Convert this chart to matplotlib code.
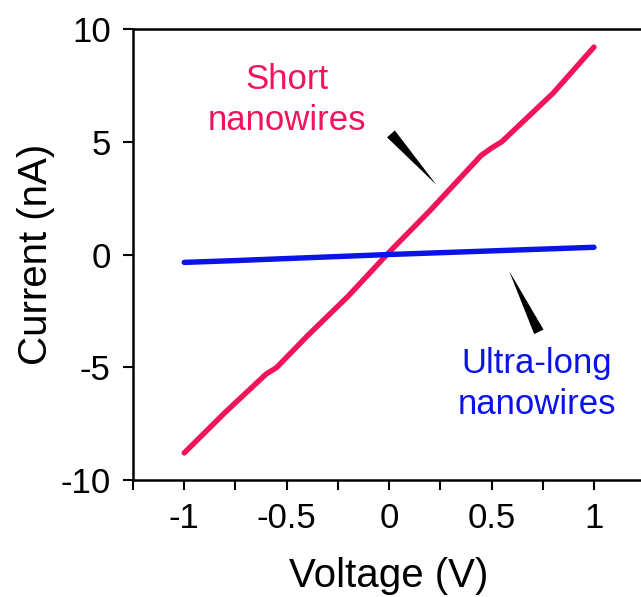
import numpy as np
import matplotlib
matplotlib.use('Agg')
import matplotlib.pyplot as plt

plt.rcParams['font.family'] = ['Liberation Sans', 'DejaVu Sans']

# I-V sweep of the short nanowires (V, nA)
short_v = [-1.0, -0.8, -0.6, -0.55, -0.4, -0.2, 0.0, 0.2, 0.45, 0.5, 0.55, 0.8, 1.0]
short_i = [-8.8, -7.0, -5.3, -5.02, -3.62, -1.85, 0.1, 1.95, 4.4, 4.72, 5.0, 7.15, 9.2]

# I-V sweep of the ultra-long nanowires
long_v = [-1.0, -0.75, -0.5, -0.25, 0.0, 0.25, 0.5, 0.75, 1.0]
long_i = [-0.35, -0.27, -0.18, -0.09, 0.0, 0.08, 0.16, 0.24, 0.32]

xticks = [-1.25, -1.0, -0.75, -0.5, -0.25, 0.0, 0.25, 0.5, 0.75, 1.0, 1.25]
xlabels = ['', '-1', '', '-0.5', '', '0', '', '0.5', '', '1', '']
yticks = [-10, -5, 0, 5, 10]

pink = '#f0145a'
blue = '#0a14e6'

fig = plt.figure(figsize=(6.41, 5.97), dpi=100)
ax = fig.add_axes([0.2075, 0.196, 0.799, 0.7554])

ax.plot(short_v, short_i, color=pink, lw=3.9, solid_capstyle='round', solid_joinstyle='round')
ax.plot(long_v, long_i, color=blue, lw=3.9, solid_capstyle='round')

ax.set_xlim(-1.25, 1.25)
ax.set_ylim(-10, 10)
ax.set_xticks(xticks)
ax.set_xticklabels(xlabels)
ax.set_yticks(yticks)
ax.set_yticklabels([str(t) for t in yticks])

ax.spines['right'].set_visible(False)
for s in ['left', 'bottom', 'top']:
    ax.spines[s].set_linewidth(1.8)
ax.tick_params(direction='out', length=7, width=1.5, labelsize=25, pad=9)

ax.set_xlabel('Voltage (V)', fontsize=29, labelpad=16)
ax.set_ylabel('Current (nA)', fontsize=29, labelpad=4)

# labels with tapered pointers
ax.text(-0.5, 6.85, 'Short\nnanowires', color=pink, fontsize=25,
        ha='center', va='center', linespacing=1.3)
ax.annotate('', xy=(0.24, 3.0), xytext=(0.0, 5.44),
            arrowprops=dict(arrowstyle='wedge,tail_width=0.75', color='black', lw=0))

ax.text(0.72, -5.75, 'Ultra-long\nnanowires', color=blue, fontsize=25,
        ha='center', va='center', linespacing=1.3)
ax.annotate('', xy=(0.58, -0.62), xytext=(0.737, -3.54),
            arrowprops=dict(arrowstyle='wedge,tail_width=0.75', color='black', lw=0))

fig.savefig('out.png', dpi=100)
